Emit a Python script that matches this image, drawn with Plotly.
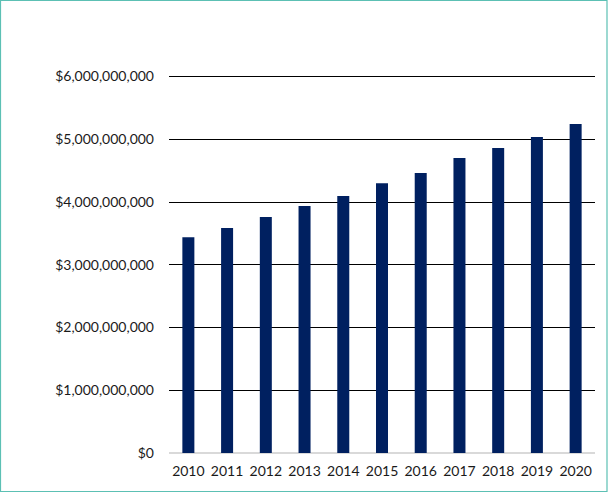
import plotly.graph_objects as go

years = ["2010", "2011", "2012", "2013", "2014", "2015", "2016", "2017", "2018", "2019", "2020"]
values = [3.44e9, 3.585e9, 3.76e9, 3.935e9, 4.094e9, 4.30e9, 4.462e9, 4.70e9, 4.861e9, 5.037e9, 5.244e9]
tick_vals = [0, 1e9, 2e9, 3e9, 4e9, 5e9, 6e9]
tick_text = ["$0", "$1,000,000,000", "$2,000,000,000", "$3,000,000,000",
             "$4,000,000,000", "$5,000,000,000", "$6,000,000,000"]

W, H = 608, 492
ML, MR, MT, MB = 169, 13, 74, 39
pw = W - ML - MR
ph = H - MT - MB

def px_x(px):
    return (px - ML) / pw

def px_y(py):
    return (H - MB - py) / ph

fig = go.Figure(go.Bar(x=years, y=values, marker_color="#002060", marker_line_width=0))

fig.update_layout(
    width=W, height=H,
    margin=dict(l=ML, r=MR, t=MT, b=MB),
    paper_bgcolor="white", plot_bgcolor="white",
    bargap=0.69,
    showlegend=False,
    font=dict(family="Lato", size=14, color="#1a1a1a"),
    xaxis=dict(showgrid=False, showline=False, ticks="", ticklabelstandoff=8),
    yaxis=dict(range=[0, 6.04e9], tickvals=tick_vals, ticktext=tick_text,
               showgrid=True, gridcolor="black", gridwidth=1.3,
               zeroline=True, zerolinecolor="#d9d9d9", zerolinewidth=1.5,
               showline=False, ticks="", ticklabelstandoff=14),
    shapes=[dict(type="rect", xref="paper", yref="paper",
                 x0=px_x(0.5), x1=px_x(607), y0=px_y(491.5), y1=px_y(0.5),
                 line=dict(color="#5cc0b4", width=1.2), fillcolor="rgba(0,0,0,0)", layer="above")],
)

fig.write_html("out.html", config={"displayModeBar": False},
               post_script="document.body.style.margin='0px';document.body.style.padding='0px';")
